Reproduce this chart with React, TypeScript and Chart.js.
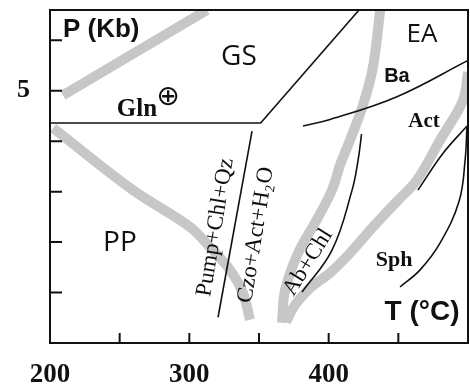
import { useEffect, useRef } from "react";
import { Chart, registerables } from "chart.js";

Chart.register(...registerables);

// Axis ticks / labels
const xTickValues = [250, 300, 350, 400, 450];
const xLabelValues = [200, 300, 400];
const yTickValues = [1, 2, 3, 4, 5, 6];
const yLabelValues = [5];

// Black reaction lines (T in °C, P in Kb)
const gsT = [200, 351.2, 421.8];
const gsP = [4.36, 4.36, 6.6];
const pumpT = [320.6, 345.0];
const pumpP = [0.51, 4.2];
const baT = [381.6, 401.0, 449.0, 500.0];
const baP = [4.3, 4.43, 4.88, 5.6];
const abChlT = [380.9, 402.4, 416.8, 421.1, 423.6];
const abChlP = [1.01, 1.84, 3.03, 3.62, 4.14];
const actT = [464.1, 482.1, 499.3];
const actP = [3.03, 3.76, 4.3];
const sphT = [451.2, 465.6, 479.9, 493.6, 497.9, 499.3];
const sphP = [1.11, 1.45, 1.98, 2.81, 3.62, 4.3];

// Gray facies bands
const bandAT = [209.3, 312.7];
const bandAP = [4.91, 6.6];
const bandBT = [202.2, 259.6, 300.5, 314.8, 329.2, 338.5, 343.5];
const bandBP = [4.26, 3.03, 2.3, 1.9, 1.45, 0.99, 0.46];
const bandCT = [437.0, 431.8, 424.6, 415.3, 408.1, 402.4, 390.2, 378.0, 368.7, 366.5];
const bandCP = [6.6, 5.47, 4.71, 4.02, 3.52, 3.03, 2.38, 1.78, 1.05, 0.4];
const bandDT = [500, 496.4, 479.9, 463.4, 449.8, 431.8, 415.3, 401.0, 386.6, 375.8, 369.4];
const bandDP = [5.37, 4.81, 4.02, 3.23, 2.83, 2.3, 1.78, 1.39, 1.09, 0.75, 0.42];

// Text annotations (text, T, P)
const annText = ["P (Kb)", "GS", "EA", "Ba", "Act", "Sph", "T (°C)", "PP", "Gln", "⊕", "Pump+Chl+Qz", "Czo+Act+H₂O", "Ab+Chl"];
const annT = [209.3, 335.6, 467, 449, 468.4, 446.9, 467, 250.2, 262.4, 284.7, 318.8, 347.9, 385.2];
const annP = [6.2, 5.66, 6.12, 5.29, 4.38, 1.64, 0.61, 1.98, 4.63, 4.87, 2.29, 2.14, 1.6];

const SANS = "'Liberation Sans', Arial, sans-serif";
const OPEN = "'Open Sans', 'Noto Sans', sans-serif";
const SERIF = "'Liberation Serif', 'DejaVu Serif', serif";
const annStyle = [
  { font: `bold 26px ${SANS}`, align: "left", rot: 0 },
  { font: `28px ${OPEN}`, align: "center", rot: 0 },
  { font: `26px ${OPEN}`, align: "center", rot: 0 },
  { font: `bold 20px ${SANS}`, align: "center", rot: 0 },
  { font: `bold 21px ${SERIF}`, align: "center", rot: 0 },
  { font: `bold 22px ${SERIF}`, align: "center", rot: 0 },
  { font: `bold 28px ${SANS}`, align: "center", rot: 0 },
  { font: `28px ${OPEN}`, align: "center", rot: 0 },
  { font: `bold 25px ${SERIF}`, align: "center", rot: 0 },
  { font: `28px 'DejaVu Sans', sans-serif`, align: "center", rot: 0 },
  { font: `23px ${SERIF}`, align: "center", rot: -80.6 },
  { font: `23px ${SERIF}`, align: "center", rot: -80.8 },
  { font: `23px ${SERIF}`, align: "center", rot: -58 },
];

const pts = (t: number[], p: number[]) => t.map((v, i) => ({ x: v, y: p[i] }));

const framePlugin = {
  id: "frame",
  afterDraw(chart: any) {
    const { ctx, chartArea, scales } = chart;
    const { left, top, right, bottom } = chartArea;
    const xs = scales.x;
    const ys = scales.y;
    ctx.save();
    ctx.strokeStyle = "#111";
    ctx.lineWidth = 2;
    ctx.strokeRect(left, top, right - left, bottom - top);
    ctx.beginPath();
    xTickValues.forEach((v) => {
      const px = xs.getPixelForValue(v);
      ctx.moveTo(px, bottom);
      ctx.lineTo(px, bottom - 10);
    });
    yTickValues.forEach((v) => {
      const py = ys.getPixelForValue(v);
      ctx.moveTo(left, py);
      ctx.lineTo(left + 12, py);
    });
    ctx.stroke();
    ctx.fillStyle = "#111";
    ctx.textBaseline = "middle";
    annText.forEach((txt, i) => {
      const st = annStyle[i];
      const px = xs.getPixelForValue(annT[i]);
      const py = ys.getPixelForValue(annP[i]);
      ctx.save();
      ctx.translate(px, py);
      ctx.rotate((st.rot * Math.PI) / 180);
      ctx.font = st.font;
      ctx.textAlign = st.align;
      ctx.fillText(txt, 0, 0);
      ctx.restore();
    });
    ctx.restore();
  },
};

export default function App() {
  const ref = useRef<HTMLCanvasElement | null>(null);
  useEffect(() => {
    document.body.style.margin = "0";
    if (!ref.current) return;
    const black = (data: any, tension = 0) => ({
      data,
      showLine: true,
      borderColor: "#111",
      borderWidth: 1.6,
      pointRadius: 0,
      tension,
      order: 1,
    });
    const band = (data: any, tension = 0.35) => ({
      data,
      showLine: true,
      borderColor: "#c7c7c7",
      borderWidth: 10,
      pointRadius: 0,
      tension,
      order: 2,
    });
    const chart = new Chart(ref.current, {
      type: "scatter",
      data: {
        datasets: [
          black(pts(gsT, gsP)),
          black(pts(pumpT, pumpP)),
          black(pts(baT, baP), 0.4),
          black(pts(abChlT, abChlP), 0.4),
          black(pts(actT, actP), 0.4),
          black(pts(sphT, sphP), 0.4),
          band(pts(bandAT, bandAP), 0),
          band(pts(bandBT, bandBP)),
          band(pts(bandCT, bandCP)),
          band(pts(bandDT, bandDP)),
        ] as any,
      },
      options: {
        animation: false,
        responsive: false,
        devicePixelRatio: 1,
        layout: { padding: { top: 10, right: 2, left: 0, bottom: 0 } },
        plugins: { legend: { display: false }, tooltip: { enabled: false } },
        scales: {
          x: {
            type: "linear",
            min: 200,
            max: 500,
            grid: { display: false, drawTicks: false },
            border: { display: false },
            afterBuildTicks: (s: any) => {
              s.ticks = xLabelValues.map((v) => ({ value: v }));
            },
            afterFit: (s: any) => {
              s.height = 42;
              s.paddingLeft = 0;
              s.paddingRight = 0;
              s.paddingTop = 0;
              s.paddingBottom = 0;
            },
            ticks: {
              padding: 16,
              color: "#111",
              maxRotation: 0,
              autoSkip: false,
              font: { family: "'Liberation Serif', serif", size: 27, weight: "bold" },
            },
          },
          y: {
            type: "linear",
            min: 0,
            max: 6.6,
            grid: { display: false, drawTicks: false },
            border: { display: false },
            afterBuildTicks: (s: any) => {
              s.ticks = yLabelValues.map((v) => ({ value: v }));
            },
            afterFit: (s: any) => {
              s.width = 50;
              s.paddingLeft = 0;
              s.paddingRight = 0;
              s.paddingTop = 0;
              s.paddingBottom = 0;
            },
            ticks: {
              padding: 20,
              color: "#111",
              autoSkip: false,
              font: { family: "'Liberation Serif', serif", size: 26, weight: "bold" },
            },
          },
        },
      },
      plugins: [framePlugin],
    });
    return () => chart.destroy();
  }, []);
  return <canvas ref={ref} width={470} height={385} style={{ display: "block" }} />;
}
